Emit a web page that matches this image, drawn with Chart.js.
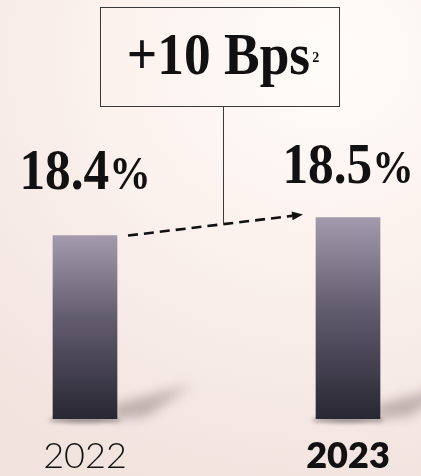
<!DOCTYPE html>
<html>
<head>
<meta charset="utf-8">
<script src="https://cdn.jsdelivr.net/npm/chart.js@4.4.1/dist/chart.umd.min.js"></script>
<style>
  html, body { margin: 0; padding: 0; }
  body {
    width: 421px;
    height: 476px;
    overflow: hidden;
    background: radial-gradient(ellipse 120% 95% at 78% 12%, #fffcf8 0%, #fbf1ed 45%, #f1e3de 100%);
  }
</style>
</head>
<body>
<canvas id="margin-chart" width="421" height="476"></canvas>
<script>
// Margin by year
const years = ['2022', '2023'];
const marginPct = [18.4, 18.5];
const changeText = '+10 Bps';
const changeNote = '2';

// Visible value window of the bar axis
const yMin = 17.38;
const yMax = 19.71;

const serif = '"Liberation Serif", "Times New Roman", serif';

// draw a run of text pieces horizontally squeezed, centred on cx
function drawSqueezed(ctx, parts, cx, baseline, sx) {
    let total = 0;
    parts.forEach(p => {
        ctx.font = p.font;
        p.w = ctx.measureText(p.text).width;
        total += p.w;
    });
    ctx.save();
    ctx.translate(cx - total * sx / 2, baseline);
    ctx.scale(sx, 1);
    let x = 0;
    parts.forEach(p => {
        ctx.font = p.font;
        ctx.fillText(p.text, x, p.dy || 0);
        x += p.w;
    });
    ctx.restore();
    return total * sx;
}

const barShadows = {
    id: 'barShadows',
    beforeDatasetsDraw(chart) {
        const ctx = chart.ctx;
        const bottom = chart.chartArea.bottom;
        chart.getDatasetMeta(0).data.forEach(bar => {
            const half = bar.width / 2;
            const right = bar.x + half;
            ctx.save();
            ctx.filter = 'blur(6px)';
            ctx.fillStyle = 'rgba(70, 55, 60, 0.32)';
            ctx.beginPath();
            ctx.moveTo(right - 4, bottom);
            ctx.lineTo(right - 4, bottom - 14);
            ctx.lineTo(right + 74, bottom - 34);
            ctx.lineTo(right + 30, bottom - 3);
            ctx.closePath();
            ctx.fill();
            ctx.filter = 'blur(2px)';
            ctx.fillStyle = 'rgba(40, 35, 40, 0.45)';
            ctx.beginPath();
            ctx.ellipse(bar.x, bottom + 1, half + 4, 3, 0, 0, Math.PI * 2);
            ctx.fill();
            ctx.restore();
        });
    }
};

const annotations = {
    id: 'annotations',
    afterDatasetsDraw(chart) {
        const ctx = chart.ctx;
        const bars = chart.getDatasetMeta(0).data;
        const gaps = [47, 35];

        // value labels above the bars
        ctx.save();
        ctx.fillStyle = '#111';
        ctx.textBaseline = 'alphabetic';
        bars.forEach((bar, i) => {
            drawSqueezed(ctx, [
                { text: marginPct[i].toFixed(1), font: 'bold 57px ' + serif },
                { text: '%', font: 'bold 46px ' + serif }
            ], bar.x, bar.y - gaps[i], 0.9);
        });
        ctx.restore();

        // dashed arrow between bar tops
        const [b1, b2] = bars;
        const x0 = b1.x + b1.width / 2 + 11, y0 = b1.y;
        const x1 = b2.x - b2.width / 2 - 13, y1 = b2.y - 3;
        const ang = Math.atan2(y1 - y0, x1 - x0);
        const head = 11;
        ctx.save();
        ctx.strokeStyle = '#111';
        ctx.fillStyle = '#111';
        ctx.lineWidth = 2.6;
        ctx.setLineDash([10, 6]);
        ctx.beginPath();
        ctx.moveTo(x0, y0);
        ctx.lineTo(x1 - head * Math.cos(ang), y1 - head * Math.sin(ang));
        ctx.stroke();
        ctx.setLineDash([]);
        ctx.translate(x1, y1);
        ctx.rotate(ang);
        ctx.beginPath();
        ctx.moveTo(0, 0);
        ctx.lineTo(-head, -4.5);
        ctx.lineTo(-head, 4.5);
        ctx.closePath();
        ctx.fill();
        ctx.restore();

        // change box with connector down to the arrow
        const mid = (b1.x + b2.x) / 2;
        const boxW = 239, boxTop = 7.5, boxH = 99;
        const boxL = Math.round(mid + 3 - boxW / 2) + 0.5;
        const cx = mid + 6.5;
        const cy = y0 + (y1 - y0) * (cx - x0) / (x1 - x0);
        ctx.save();
        ctx.strokeStyle = '#3a3a3a';
        ctx.lineWidth = 1;
        ctx.strokeRect(boxL, boxTop, boxW, boxH);
        ctx.beginPath();
        ctx.moveTo(Math.round(cx) + 0.5, boxTop + boxH);
        ctx.lineTo(Math.round(cx) + 0.5, cy);
        ctx.stroke();

        ctx.fillStyle = '#111';
        const mainFont = 'bold 60px ' + serif;
        const noteFont = 'bold 14px ' + serif;
        ctx.font = mainFont;
        const sx = 0.89;
        const mainW = ctx.measureText(changeText).width * sx;
        ctx.font = noteFont;
        const noteW = ctx.measureText(changeNote).width;
        const startX = boxL + boxW / 2 + 3 - (mainW + noteW + 2) / 2;
        drawSqueezed(ctx, [{ text: changeText, font: mainFont }], startX + mainW / 2, 74, sx);
        ctx.font = noteFont;
        ctx.fillText(changeNote, startX + mainW + 2, 62);
        ctx.restore();
    }
};

new Chart(document.getElementById('margin-chart'), {
    type: 'bar',
    data: {
        labels: years,
        datasets: [{
            data: marginPct,
            barThickness: 64,
            // let the bars spill past the side edges, cut them at the floor
            clip: { left: false, right: false, top: false, bottom: 0 },
            borderWidth: 0,
            backgroundColor: (c) => {
                const chart = c.chart;
                if (!chart.chartArea || c.parsed === undefined) return '#6a6475';
                const y = chart.scales.y;
                const top = y.getPixelForValue(c.parsed.y);
                const g = chart.ctx.createLinearGradient(0, top, 0, chart.chartArea.bottom);
                g.addColorStop(0, '#a39bad');
                g.addColorStop(0.45, '#625c6f');
                g.addColorStop(1, '#292733');
                return g;
            }
        }]
    },
    options: {
        responsive: false,
        animation: false,
        layout: { padding: { left: 85, right: 73, top: 0, bottom: -17 } },
        plugins: {
            legend: { display: false },
            tooltip: { enabled: false }
        },
        scales: {
            x: {
                offset: false,
                grid: { display: false, drawTicks: false },
                border: { display: false },
                ticks: {
                    padding: 19,
                    color: '#111',
                    maxRotation: 0,
                    font: (c) => ({
                        family: 'Lato, "Open Sans", sans-serif',
                        size: 36,
                        lineHeight: 1,
                        weight: c.index === 1 ? '800' : '300'
                    })
                }
            },
            y: {
                display: false,
                min: yMin,
                max: yMax
            }
        }
    },
    plugins: [barShadows, annotations]
});
</script>
</body>
</html>
